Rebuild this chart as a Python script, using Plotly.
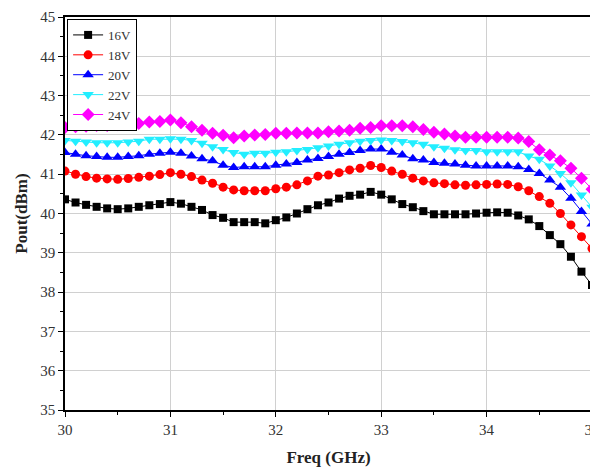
import plotly.graph_objects as go

freq = [round(30 + 0.1 * i, 1) for i in range(51)]

pout_16v = [40.36, 40.28, 40.22, 40.17, 40.13, 40.11, 40.13, 40.17, 40.21, 40.24,
            40.29, 40.25, 40.17, 40.09, 39.96, 39.89, 39.78, 39.78, 39.78, 39.75,
            39.83, 39.90, 40.00, 40.11, 40.21, 40.28, 40.38, 40.45, 40.48, 40.55,
            40.48, 40.36, 40.24, 40.16, 40.06, 39.98, 39.98, 39.98, 39.98, 40.00,
            40.02, 40.03, 40.02, 39.95, 39.85, 39.68, 39.45, 39.22, 38.90, 38.52,
            38.18]
pout_18v = [41.08, 41.00, 40.94, 40.90, 40.88, 40.87, 40.89, 40.92, 40.95, 40.99,
            41.04, 41.00, 40.94, 40.85, 40.77, 40.67, 40.60, 40.58, 40.58, 40.58,
            40.63, 40.67, 40.73, 40.83, 40.95, 40.98, 41.04, 41.11, 41.15, 41.22,
            41.17, 41.08, 41.00, 40.90, 40.83, 40.78, 40.76, 40.73, 40.72, 40.73,
            40.74, 40.75, 40.74, 40.68, 40.58, 40.43, 40.26, 40.00, 39.71, 39.41,
            39.11]
pout_20v = [41.55, 41.51, 41.47, 41.45, 41.43, 41.43, 41.45, 41.47, 41.51, 41.53,
            41.56, 41.53, 41.46, 41.39, 41.34, 41.23, 41.17, 41.19, 41.19, 41.19,
            41.23, 41.26, 41.30, 41.36, 41.40, 41.45, 41.51, 41.55, 41.60, 41.64,
            41.64, 41.56, 41.49, 41.39, 41.36, 41.30, 41.28, 41.26, 41.23, 41.21,
            41.21, 41.21, 41.21, 41.19, 41.12, 41.02, 40.85, 40.67, 40.39, 40.05,
            39.73]
pout_22v = [41.86, 41.84, 41.82, 41.80, 41.80, 41.80, 41.82, 41.84, 41.89, 41.89,
            41.90, 41.89, 41.86, 41.79, 41.70, 41.63, 41.55, 41.51, 41.53, 41.53,
            41.56, 41.57, 41.60, 41.63, 41.67, 41.72, 41.76, 41.80, 41.84, 41.86,
            41.87, 41.86, 41.83, 41.80, 41.76, 41.70, 41.66, 41.62, 41.60, 41.60,
            41.57, 41.57, 41.57, 41.57, 41.46, 41.38, 41.21, 41.02, 40.78, 40.47,
            40.16]
pout_24v = [42.19, 42.21, 42.22, 42.24, 42.24, 42.26, 42.27, 42.29, 42.33, 42.34,
            42.38, 42.31, 42.21, 42.12, 42.04, 41.99, 41.93, 41.97, 42.00, 42.01,
            42.04, 42.04, 42.05, 42.05, 42.05, 42.08, 42.10, 42.12, 42.17, 42.19,
            42.23, 42.23, 42.23, 42.21, 42.14, 42.07, 42.02, 41.97, 41.94, 41.94,
            41.94, 41.94, 41.94, 41.92, 41.83, 41.62, 41.49, 41.34, 41.15, 40.90,
            40.62]

series_names = ["16V", "18V", "20V", "22V", "24V"]
series_values = [pout_16v, pout_18v, pout_20v, pout_22v, pout_24v]
colors = ["#000000", "#ff0000", "#0000ff", "#22eeff", "#ff00ff"]
symbols = ["square", "circle", "triangle-up", "triangle-down", "diamond"]
sizes = [8, 9, 10, 10, 10]

fig = go.Figure()
for name, vals, c, s, sz in zip(series_names, series_values, colors, symbols, sizes):
    fig.add_trace(go.Scatter(
        x=freq, y=vals, name=name, mode="lines+markers",
        line=dict(color=c, width=1),
        marker=dict(color=c, symbol=s, size=sz, line=dict(width=0)),
    ))

serif = "Liberation Serif, DejaVu Serif, serif"
axis_common = dict(
    showline=True, linecolor="black", linewidth=1.5, mirror=True,
    ticks="outside", ticklen=5, tickcolor="black", tickwidth=1,
    showgrid=True, gridcolor="#d0d0d0", gridwidth=1, zeroline=False,
    tickfont=dict(family=serif, size=15, color="#333333"),
    automargin=False,
)

fig.update_xaxes(
    range=[30, 35], dtick=1, tick0=30,
    minor=dict(ticks="outside", ticklen=3, dtick=0.5, tickcolor="black", showgrid=False),
    title=dict(text="<b>Freq (GHz)</b>", font=dict(family=serif, size=17, color="#222222"), standoff=14),
    **axis_common,
)
fig.update_yaxes(
    range=[35, 45], dtick=1, tick0=35,
    minor=dict(ticks="outside", ticklen=3, dtick=0.5, tickcolor="black", showgrid=False),
    title=dict(text="<b>Pout(dBm)</b>", font=dict(family=serif, size=17, color="#222222"), standoff=8),
    **axis_common,
)

fig.update_layout(
    width=598, height=473,
    margin=dict(l=57, r=14, t=9, b=71),
    plot_bgcolor="white", paper_bgcolor="white",
    legend=dict(
        x=0.004, y=0.995, xanchor="left", yanchor="top",
        bgcolor="white", bordercolor="black", borderwidth=1,
        font=dict(family=serif, size=13, color="#333333"),
        itemwidth=30, tracegroupgap=0,
    ),
)

fig.write_html("out.html")
